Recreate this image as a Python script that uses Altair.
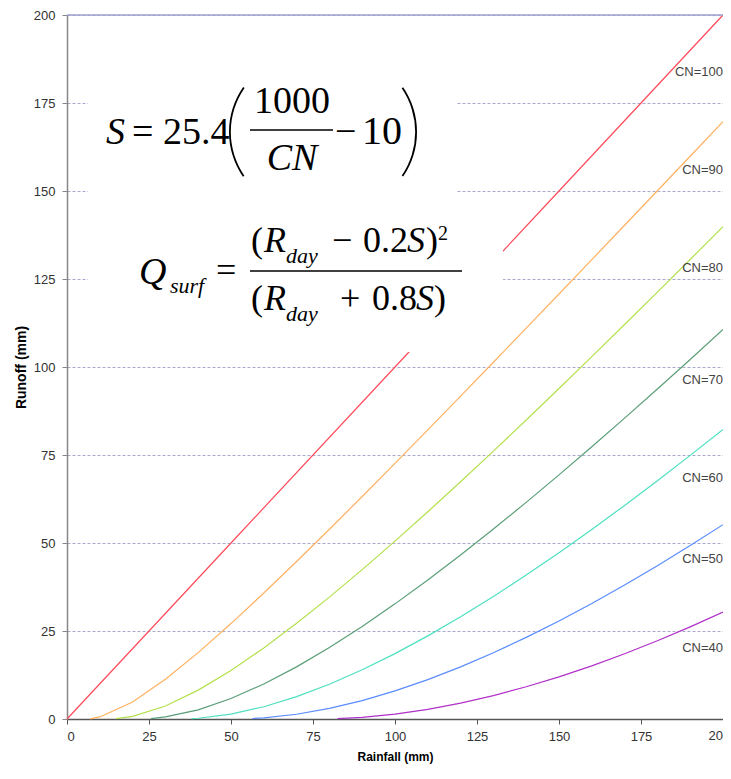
import altair as alt
import pandas as pd

# ---------------- data ----------------
rain_100 = [0, 50, 100, 150, 200]
q_100 = [0, 50, 100, 150, 200]

rain_90 = [7, 10, 20, 30, 40, 50, 60, 70, 80, 90, 100, 110, 120, 130, 140, 150, 160, 170, 180, 190, 200]
q_90 = [0.06, 0.58, 4.84, 11.28, 18.86, 27.11, 35.78, 44.74, 53.90, 63.21, 72.63, 82.14, 91.72,
        101.35, 111.03, 120.75, 130.50, 140.27, 150.07, 159.88, 169.71]

rain_80 = [15, 20, 30, 40, 50, 60, 70, 80, 90, 100, 110, 120, 130, 140, 150, 160, 170, 180, 190, 200]
q_80 = [0.08, 0.75, 3.70, 8.21, 13.80, 20.19, 27.18, 34.63, 42.44, 50.54, 58.88, 67.41, 76.10,
        84.93, 93.88, 102.93, 112.06, 121.27, 130.55, 139.88]

rain_70 = [25.6, 30, 40, 50, 60, 70, 80, 90, 100, 110, 120, 130, 140, 150, 160, 170, 180, 190, 200]
q_70 = [0.13, 0.58, 2.61, 5.81, 9.94, 14.81, 20.29, 26.29, 32.71, 39.50, 46.59, 53.96, 61.55,
        69.35, 77.33, 85.47, 93.74, 102.14, 110.65]

rain_60 = [38, 40, 50, 60, 70, 80, 90, 100, 110, 120, 130, 140, 150, 160, 170, 180, 190, 200]
q_60 = [0.10, 0.21, 1.40, 3.49, 6.35, 9.88, 13.97, 18.57, 23.61, 29.04, 34.81, 40.89, 47.25,
        53.85, 60.67, 67.69, 74.90, 82.27]

rain_50 = [56.5, 60, 70, 80, 90, 100, 110, 120, 130, 140, 150, 160, 170, 180, 190, 200]
q_50 = [0.13, 0.32, 1.35, 3.01, 5.24, 7.98, 11.19, 14.82, 18.83, 23.18, 27.86, 32.83, 38.07,
        43.56, 49.28, 55.21]

rain_40 = [82.5, 90, 100, 110, 120, 130, 140, 150, 160, 170, 180, 190, 200]
q_40 = [0.10, 0.48, 1.40, 2.75, 4.52, 6.66, 9.15, 11.98, 15.11, 18.53, 22.22, 26.17, 30.36]

series_names = ["CN=100", "CN=90", "CN=80", "CN=70", "CN=60", "CN=50", "CN=40"]
series_colors = ["#ff4a5a", "#ffb060", "#b4e04c", "#5a9e78", "#4ee0c0", "#5a8cff", "#b030c8"]
axis_ticks = [0, 25, 50, 75, 100, 125, 150, 175, 200]

rains = [rain_100, rain_90, rain_80, rain_70, rain_60, rain_50, rain_40]
qs = [q_100, q_90, q_80, q_70, q_60, q_50, q_40]

rows = []
for name, rr, qq in zip(series_names, rains, qs):
    for i, (r, q) in enumerate(zip(rr, qq)):
        rows.append({"cn": name, "rain": r, "runoff": q, "order": i})
df = pd.DataFrame(rows)

# ---------------- layout ----------------
W, H = 656, 704
OX, OY = 67, 15          # page position of plot origin
SANS = "Liberation Sans, Arial, sans-serif"
SERIF = "Liberation Serif, Times New Roman, serif"


def PX(x):
    return x - OX


def PY(y):
    return y - OY


one = alt.Data(values=[{}])

lines = alt.Chart(df).mark_line(strokeWidth=1.2).encode(
    x=alt.X("rain:Q", scale=alt.Scale(domain=[0, 200], nice=False),
            axis=alt.Axis(values=axis_ticks, title="Rainfall (mm)", grid=False,
                          domainColor="#555555", domainWidth=1.5, tickColor="#555555",
                          tickSize=5, labelPadding=6, titlePadding=8, titleFontSize=12,
                          labelExpr="datum.value >= 200 ? '' : datum.label")),
    y=alt.Y("runoff:Q", scale=alt.Scale(domain=[0, 200], nice=False),
            axis=alt.Axis(values=axis_ticks, title="Runoff (mm)", grid=True,
                          gridDash=[3, 2], gridColor="#a8a8cc", gridWidth=1,
                          domainColor="#888888", domainWidth=1.5, tickColor="#888888",
                          tickSize=5, labelPadding=7, titlePadding=5, titleFontSize=14)),
    color=alt.Color("cn:N", scale=alt.Scale(domain=series_names, range=series_colors), legend=None),
    order="order:Q",
)

top_line = alt.Chart(one).mark_rule(color="#a0a0d0", strokeWidth=1.5).encode(
    x=alt.value(0), x2=alt.value(W), y=alt.value(0))

# last x tick label, cut by the right edge of the picture
cut_label = alt.Chart(one).mark_text(
    align="right", baseline="top", font=SANS, fontSize=13, color="#333333"
).encode(x=alt.value(W), y=alt.value(H + 11), text=alt.value("20"))

# CN labels at right edge
label_page_y = [72, 170, 268, 380, 478, 559, 648]
cn_labels = []
for name, py in zip(series_names, label_page_y):
    cn_labels.append(alt.Chart(one).mark_text(
        align="right", baseline="middle", font=SANS, fontSize=13, color="#444444"
    ).encode(x=alt.value(W), y=alt.value(PY(py)), text=alt.value(name)))

# white panels behind the equations
boxes = [
    alt.Chart(one).mark_rect(color="white").encode(
        x=alt.value(PX(88)), x2=alt.value(PX(457)), y=alt.value(PY(80)), y2=alt.value(PY(206))),
    alt.Chart(one).mark_rect(color="white").encode(
        x=alt.value(PX(88)), x2=alt.value(PX(503)), y=alt.value(PY(206)), y2=alt.value(PY(352))),
]


def txt(s, x, y, size, italic=False, align="left"):
    return alt.Chart(one).mark_text(
        align=align, baseline="alphabetic", font=SERIF, fontSize=size,
        fontStyle="italic" if italic else "normal", color="black"
    ).encode(x=alt.value(PX(x)), y=alt.value(PY(y)), text=alt.value(s))


def bar(x1, x2, y):
    return alt.Chart(one).mark_rule(color="black", strokeWidth=1.5).encode(
        x=alt.value(PX(x1)), x2=alt.value(PX(x2)), y=alt.value(PY(y)))


def paren(cx, cy, r, t1, t2):
    return alt.Chart(one).mark_arc(radius=r, radius2=r - 1.8, theta=t1, theta2=t2, color="black").encode(
        x=alt.value(PX(cx)), y=alt.value(PY(cy)))


eq = [
    # S = 25.4 ( 1000/CN - 10 )
    txt("S", 106, 144, 38, italic=True),
    txt("= 25.4", 132, 144, 38),
    paren(308, 132, 79, 4.11, 5.32),
    txt("1000", 292, 113, 38, align="center"),
    bar(250, 333, 130),
    txt("CN", 292, 170, 38, italic=True, align="center"),
    txt("\u2212", 335, 144, 38),
    txt("10", 362, 144, 40),
    paren(338, 132, 79, 0.97, 2.17),
    # Q_surf = (R_day - 0.2S)^2 / (R_day + 0.8S)
    txt("Q", 139, 284, 38, italic=True),
    txt("surf", 170, 293, 22, italic=True),
    txt("=", 216, 282, 36),
    txt("(", 251, 252, 36),
    txt("R", 264, 252, 36, italic=True),
    txt("day", 286, 263, 22, italic=True),
    txt("\u2212", 332, 252, 36),
    txt("0.2", 363, 252, 36),
    txt("S", 407, 252, 36, italic=True),
    txt(")", 426, 252, 36),
    txt("2", 438, 240, 20),
    bar(250, 462, 271),
    txt("(", 251, 310, 36),
    txt("R", 264, 310, 36, italic=True),
    txt("day", 286, 321, 22, italic=True),
    txt("+", 340, 310, 36),
    txt("0.8", 372, 310, 36),
    txt("S", 416, 310, 36, italic=True),
    txt(")", 434, 310, 36),
]

chart = alt.layer(lines, top_line, cut_label, *boxes, *eq, *cn_labels).properties(
    width=W, height=H,
    autosize=alt.AutoSizeParams(type="none"),
    padding={"left": 59, "top": 7, "right": 0, "bottom": 46},
).configure_view(stroke=None).configure_axis(
    labelFont=SANS, labelFontSize=13, labelColor="#333333",
    titleFont=SANS, titleFontWeight="bold", titleColor="#000000",
)

chart.save("out.html", embed_options={"renderer": "svg", "actions": False})
